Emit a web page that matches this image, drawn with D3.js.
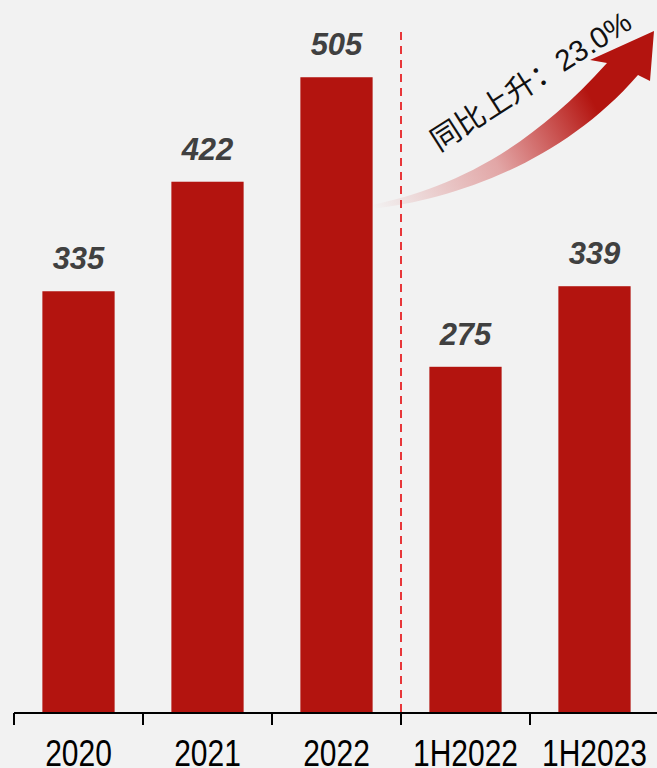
<!DOCTYPE html>
<html>
<head>
<meta charset="utf-8">
<script src="https://cdn.jsdelivr.net/npm/d3@7"></script>
<style>
  html, body { margin: 0; padding: 0; background: #f2f2f2; }
  svg { display: block; }
</style>
</head>
<body>
<div id="chart"></div>
<script>
"use strict";

// data
const categories = ["2020", "2021", "2022", "1H2022", "1H2023"];
const values = [335, 422, 505, 275, 339];
const growthLabel = "同比上升：23.0%";

const svgWidth = 657,
    svgHeight = 768;

const margin = { left: 14, right: -2, top: 8, bottom: 55 },
    baseY = svgHeight - margin.bottom; // 713

const svg = d3.select("#chart").append("svg")
    .attr("width", svgWidth)
    .attr("height", svgHeight);

svg.append("rect")
    .attr("width", svgWidth)
    .attr("height", svgHeight)
    .attr("fill", "#f2f2f2");

// scales
const x = d3.scaleBand()
    .domain(categories)
    .range([margin.left, svgWidth - margin.right])
    .paddingInner(0.44)
    .paddingOuter(0.22);

const y = d3.scaleLinear()
    .domain([0, 560])
    .range([baseY, margin.top]);

const halfGap = x.step() * x.paddingInner() / 2;

// bars
svg.append("g")
    .selectAll("rect")
    .data(values)
    .enter()
    .append("rect")
    .attr("x", (d, i) => x(categories[i]))
    .attr("y", d => y(d))
    .attr("width", x.bandwidth())
    .attr("height", d => baseY - y(d))
    .attr("fill", "#b3140f");

// value labels
svg.append("g")
    .selectAll("text")
    .data(values)
    .enter()
    .append("text")
    .attr("x", (d, i) => x(categories[i]) + x.bandwidth() / 2)
    .attr("y", d => y(d) - 22)
    .attr("text-anchor", "middle")
    .style("font-family", "'Liberation Sans', Arial, sans-serif")
    .style("font-weight", "bold")
    .style("font-style", "italic")
    .style("font-size", "31px")
    .attr("fill", "#404040")
    .text(d => d);

// dashed separator between annual and half-year data
const sepX = x("1H2022") - halfGap;
svg.append("line")
    .attr("x1", sepX)
    .attr("x2", sepX)
    .attr("y1", 32)
    .attr("y2", baseY)
    .attr("stroke", "#e8373a")
    .attr("stroke-width", 2)
    .attr("stroke-dasharray", "8,6");

// x axis (labels are drawn tall and narrow, like the original)
const gAxis = svg.append("g")
    .attr("transform", `translate(0,${baseY})`);

gAxis.selectAll(".cat-label")
    .data(categories)
    .enter()
    .append("text")
    .attr("class", "cat-label")
    .attr("transform", d => `translate(${x(d) + x.bandwidth() / 2},53) scale(1,1.2)`)
    .attr("text-anchor", "middle")
    .style("font-family", "'Liberation Sans', Arial, sans-serif")
    .style("font-size", "30px")
    .attr("fill", "#000")
    .text(d => d);

gAxis.append("line")
    .attr("x1", margin.left)
    .attr("x2", svgWidth)
    .attr("stroke", "#000")
    .attr("stroke-width", 2);

gAxis.selectAll(".sep-tick")
    .data(categories)
    .enter()
    .append("line")
    .attr("class", "sep-tick")
    .attr("x1", d => x(d) - halfGap)
    .attr("x2", d => x(d) - halfGap)
    .attr("y1", 0)
    .attr("y2", 12)
    .attr("stroke", "#000")
    .attr("stroke-width", 2);

// growth arrow
const defs = svg.append("defs");
const grad = defs.append("linearGradient")
    .attr("id", "arrowGrad")
    .attr("gradientUnits", "userSpaceOnUse")
    .attr("x1", 372).attr("y1", 205)
    .attr("x2", 625).attr("y2", 70);
grad.append("stop").attr("offset", "0%").attr("stop-color", "#c41a1a").attr("stop-opacity", 0);
grad.append("stop").attr("offset", "45%").attr("stop-color", "#c41a1a").attr("stop-opacity", 0.35);
grad.append("stop").attr("offset", "85%").attr("stop-color", "#b3140f").attr("stop-opacity", 1);
grad.append("stop").attr("offset", "100%").attr("stop-color", "#b3140f").attr("stop-opacity", 1);

const arrowPath = "M372,205" +
    "C440,190 520,160 607,63" +   // upper edge of shaft
    "L590,60" +                   // head left wing
    "L654,31" +                   // tip
    "L650,81" +                   // head right wing
    "L638,75" +
    "C560,165 450,200 372,209Z"; // lower edge back to tail

svg.append("path")
    .attr("d", arrowPath)
    .attr("fill", "url(#arrowGrad)");

svg.append("text")
    .attr("transform", "translate(439,152) rotate(-32.6)")
    .style("font-family", "'Liberation Sans', 'Noto Sans CJK SC', sans-serif")
    .style("font-size", "29.5px")
    .attr("fill", "#111")
    .text(growthLabel);
</script>
</body>
</html>
